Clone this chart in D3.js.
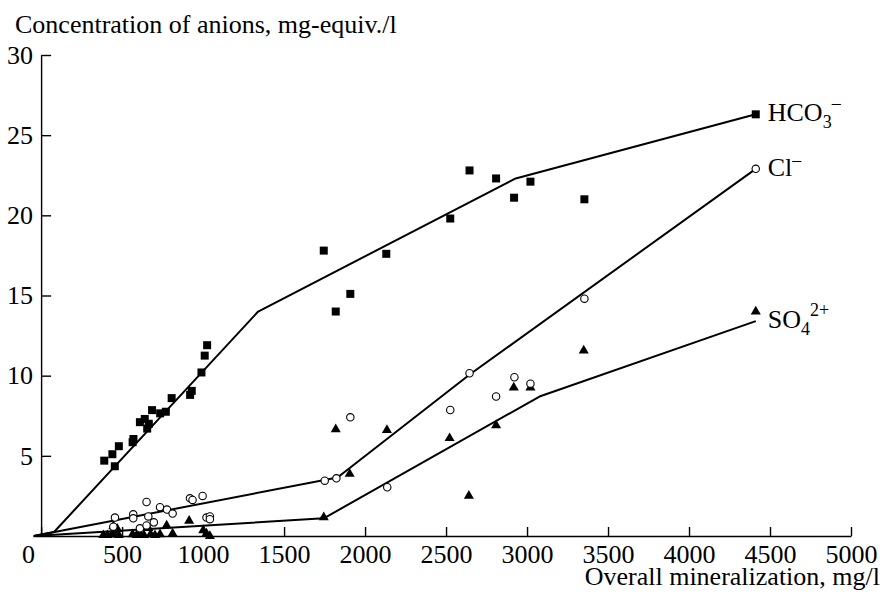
<!DOCTYPE html>
<html>
<head>
<meta charset="utf-8">
<script src="https://cdn.jsdelivr.net/npm/d3@7"></script>
<style>
    html, body { margin: 0; padding: 0; background: #fff; overflow: hidden; }
    svg { display: block; }
    svg text { font-family: "Liberation Serif", "Times New Roman", serif; fill: #000; }
</style>
</head>
<body>
<div id="chart"></div>
<script>
// ---- Data (overall mineralization mg/l, concentration mg-equiv./l) ----
const hco3Points = [
    [390, 4.7], [440, 5.1], [455, 4.35], [480, 5.6], [565, 5.85], [570, 6.05],
    [610, 7.1], [640, 7.3], [655, 6.7], [665, 7.0], [685, 7.85], [735, 7.65],
    [770, 7.75], [806, 8.6], [920, 8.8], [930, 9.05], [990, 10.2], [1010, 11.25],
    [1025, 11.9], [1745, 17.8], [1819, 14.0], [1909, 15.1], [2131, 17.6],
    [2526, 19.8], [2645, 22.8], [2809, 22.3], [2920, 21.1], [3021, 22.1],
    [3354, 21.0], [4412, 26.3]
];
const clPoints = [
    [446, 0.58], [456, 1.15], [569, 1.35], [569, 1.1], [610, 0.48], [651, 2.12],
    [651, 0.66], [662, 1.22], [696, 0.85], [734, 1.8], [777, 1.65], [812, 1.4],
    [919, 2.35], [935, 2.25], [997, 2.5], [1021, 1.15], [1042, 1.22], [1042, 1.05],
    [1751, 3.45], [1823, 3.6], [1909, 7.4], [2137, 3.04], [2526, 7.86],
    [2645, 10.15], [2809, 8.7], [2922, 9.9], [3021, 9.5], [3354, 14.8], [4412, 22.9]
];
const so4Points = [
    [384, 0.05], [409, 0.05], [436, 0.1], [446, 0.6], [456, 0.1], [470, 0.45],
    [480, 0.05], [565, 0.1], [590, 0.05], [610, 0.15], [635, 0.05], [662, 0.5],
    [676, 0.1], [703, 0.05], [734, 0.1], [775, 0.65], [812, 0.15], [914, 0.95],
    [1001, 0.35], [1021, 0.15], [1042, 0.0],
    [1745, 1.17], [1819, 6.65], [1905, 3.87], [2135, 6.6], [2522, 6.1],
    [2641, 2.5], [2809, 6.9], [2918, 9.25], [3021, 9.25], [3350, 11.56], [4412, 14.0]
];

// trend lines
const hco3Line = [[-45, 0], [80, 0.25], [1340, 14.0], [2930, 22.3], [4412, 26.3]];
const clLine = [[-45, 0], [1830, 3.65], [2650, 10.1], [4412, 22.9]];
const so4Line = [[-45, 0], [1745, 1.1], [3077, 8.7], [4412, 13.4]];

const xTicks = [0, 500, 1000, 1500, 2000, 2500, 3000, 3500, 4000, 4500, 5000];
const yTicks = [5, 10, 15, 20, 25, 30];

const seriesLabels = [
    { key: "hco3", base: "HCO", sub: "3", sup: "\u2013", end: 26.3 },
    { key: "cl", base: "Cl", sub: "", sup: "\u2013", end: 22.9 },
    { key: "so4", base: "SO", sub: "4", sup: "2+", end: 13.4 }
];

const totalWidth = 886, totalHeight = 593;
const margin = { top: 55, right: 35, bottom: 57, left: 33 };
const width = totalWidth - margin.left - margin.right;
const innerHeight = totalHeight - margin.top - margin.bottom;

const svg = d3.select("#chart").append("svg")
    .attr("width", totalWidth)
    .attr("height", totalHeight);

const g = svg.append("g")
    .attr("transform", `translate(${margin.left}, ${margin.top})`);

// ---- Scales ----
const x = d3.scaleLinear().domain([-50, 5000]).range([0, width]);
const y = d3.scaleLinear().domain([0, 30]).range([innerHeight, 0]);

// ---- Axes ----
const xAxis = g.append("g")
    .attr("transform", `translate(0, ${innerHeight})`)
    .call(
        d3.axisBottom(x)
            .tickValues(xTicks)
            .tickFormat(d3.format("d"))
            .tickSizeInner(-9)
            .tickSizeOuter(0)
            .tickPadding(9)
    );

const yAxis = g.append("g")
    .attr("transform", `translate(${x(0)}, 0)`)
    .call(
        d3.axisLeft(y)
            .tickValues(yTicks)
            .tickFormat(d3.format("d"))
            .tickSizeInner(-10)
            .tickSizeOuter(0)
            .tickPadding(8)
    );

[xAxis, yAxis].forEach(a => {
    a.select(".domain").attr("stroke", "#000").attr("stroke-width", 1.4);
    a.selectAll(".tick line").attr("stroke", "#000").attr("stroke-width", 1.4);
    a.selectAll(".tick text")
        .attr("fill", "#000")
        .style("font-size", "26px")
        .style("font-family", '"Liberation Serif", "Times New Roman", serif');
});

// the "0" sits a little left of the origin in the original
xAxis.selectAll(".tick text")
    .filter(d => d === 0)
    .attr("dx", -13);

// ---- Lines ----
const line = d3.line().x(d => x(d[0])).y(d => y(d[1]));

[hco3Line, clLine, so4Line].forEach(pts => {
    g.append("path")
        .datum(pts)
        .attr("d", line)
        .attr("fill", "none")
        .attr("stroke", "#000")
        .attr("stroke-width", 2)
        .attr("stroke-linejoin", "round");
});

// ---- Points ----
g.selectAll(".sq")
    .data(hco3Points)
    .enter()
    .append("path")
    .attr("class", "sq")
    .attr("transform", d => `translate(${x(d[0])}, ${y(d[1])})`)
    .attr("d", d3.symbol().type(d3.symbolSquare).size(64))
    .attr("fill", "#000");

g.selectAll(".tri")
    .data(so4Points)
    .enter()
    .append("path")
    .attr("class", "tri")
    .attr("transform", d => `translate(${x(d[0])}, ${y(d[1])})`)
    .attr("d", d3.symbol().type(d3.symbolTriangle).size(44))
    .attr("fill", "#000");

g.selectAll(".circ")
    .data(clPoints)
    .enter()
    .append("circle")
    .attr("class", "circ")
    .attr("cx", d => x(d[0]))
    .attr("cy", d => y(d[1]))
    .attr("r", 3.7)
    .attr("fill", "#fff")
    .attr("stroke", "#000")
    .attr("stroke-width", 1.1);

// ---- Series labels ----
const lbl = g.selectAll(".series-label")
    .data(seriesLabels)
    .enter()
    .append("text")
    .attr("class", "series-label")
    .attr("x", x(4412) + 12)
    .attr("y", d => y(d.end) + 7)
    .style("font-size", "26px");

lbl.append("tspan").text(d => d.base);
lbl.filter(d => d.sub)
    .append("tspan")
    .attr("dy", 7)
    .style("font-size", "18px")
    .text(d => d.sub);
lbl.append("tspan")
    .attr("dy", d => d.sub ? -19 : -10)
    .style("font-size", "18px")
    .text(d => d.sup);

// ---- Titles ----
g.append("text")
    .attr("x", -18)
    .attr("y", -22)
    .style("font-size", "26px")
    .text("Concentration of anions, mg-equiv./l");

g.append("text")
    .attr("x", width + 29)
    .attr("y", innerHeight + 49)
    .attr("text-anchor", "end")
    .style("font-size", "26px")
    .text("Overall mineralization, mg/l");
</script>
</body>
</html>
